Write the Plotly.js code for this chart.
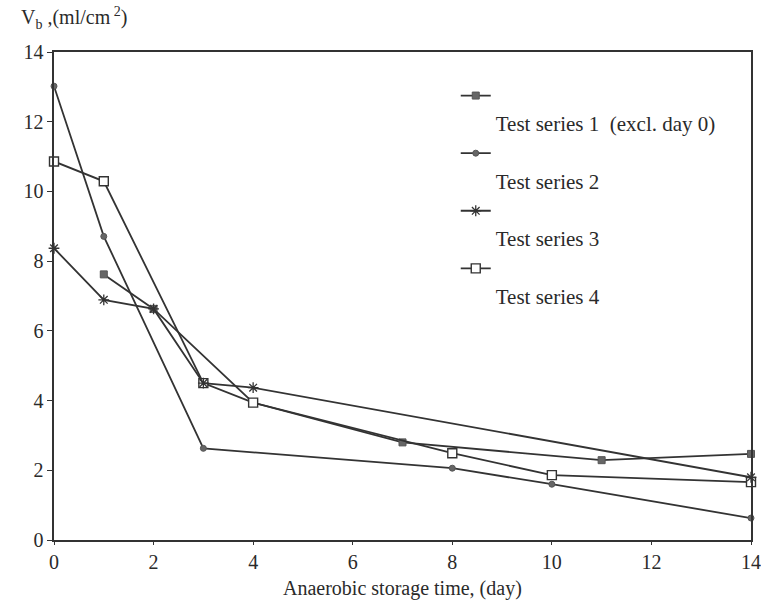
<!DOCTYPE html>
<html>
<head>
<meta charset="utf-8">
<script src="https://cdn.plot.ly/plotly-3.0.1.min.js"></script>
<style>html,body{margin:0;padding:0;background:#fff;}#chart{width:761px;height:602px;}</style>
</head>
<body>
<div id="chart"></div>
<script>
// Data
const s1Days = [1, 2, 4, 7, 11, 14];
const s1Vals = [7.62, 6.63, 3.94, 2.80, 2.29, 2.47];
const s2Days = [0, 1, 3, 8, 10, 14];
const s2Vals = [13.02, 8.71, 2.63, 2.06, 1.60, 0.63];
const s3Days = [0, 1, 2, 3, 4, 14];
const s3Vals = [8.37, 6.89, 6.63, 4.50, 4.37, 1.80];
const s4Days = [0, 1, 3, 4, 8, 10, 14];
const s4Vals = [10.86, 10.29, 4.50, 3.94, 2.49, 1.86, 1.66];
const seriesNames = ["Test series 1  (excl. day 0)", "Test series 2", "Test series 3", "Test series 4"];
const xTicks = [0, 2, 4, 6, 8, 10, 12, 14];
const yTicks = [0, 2, 4, 6, 8, 10, 12, 14];
const xTitle = "Anaerobic storage time, (day)";
const yTitle = "V<sub>b</sub> ,(ml/cm<sup> 2</sup>)";

const lineCol = "#333333";
const font = "'Liberation Serif', 'Times New Roman', serif";
const txtCol = "#2a2a2a";

const traces = [
  {x: s1Days, y: s1Vals, name: "\u00a0<br>" + seriesNames[0], legendgroup: "a", legendrank: 1,
   mode: "lines+markers", cliponaxis: false,
   line: {color: lineCol, width: 1.8},
   marker: {symbol: "square", size: 7, color: "#666666", line: {color: "#555", width: 1}}},
  {x: s2Days, y: s2Vals, name: "\u00a0<br>" + seriesNames[1], legendgroup: "b", legendrank: 2,
   mode: "lines+markers", cliponaxis: false,
   line: {color: lineCol, width: 1.8},
   marker: {symbol: "circle", size: 6, color: "#666666", line: {color: "#555", width: 1}}},
  {x: s4Days, y: s4Vals, name: "\u00a0<br>" + seriesNames[3], legendgroup: "d", legendrank: 4,
   mode: "lines+markers", cliponaxis: false,
   line: {color: lineCol, width: 1.8},
   marker: {symbol: "square", size: 9, color: "#ffffff", line: {color: lineCol, width: 1.4}}},
  {x: s3Days, y: s3Vals, name: "\u00a0<br>" + seriesNames[2], legendgroup: "c", legendrank: 3,
   mode: "lines+markers", cliponaxis: false,
   line: {color: lineCol, width: 1.8},
   marker: {symbol: "asterisk-open", size: 9, color: lineCol, line: {color: lineCol, width: 1.3}}}
];

const layout = {
  width: 761, height: 602,
  margin: {l: 54, r: 10, t: 52, b: 62},
  paper_bgcolor: "#fff", plot_bgcolor: "#fff",
  font: {family: font, size: 20, color: txtCol},
  showlegend: true,
  legend: {x: 0.5764, xanchor: "left", y: 0.952, yanchor: "top",
           valign: "top", tracegroupgap: 0, itemwidth: 30,
           bgcolor: "rgba(0,0,0,0)", font: {family: font, size: 21, color: txtCol}},
  xaxis: {range: [0, 14], tickvals: xTicks, ticktext: xTicks.map(String),
          showgrid: false, zeroline: false, showline: true, mirror: true,
          linecolor: lineCol, linewidth: 1.6, ticks: "outside", ticklen: 3,
          tickcolor: lineCol, tickfont: {family: font, size: 20, color: txtCol}},
  yaxis: {range: [0, 14], tickvals: yTicks, ticktext: yTicks.map(String),
          showgrid: false, zeroline: false, showline: true, mirror: true,
          linecolor: lineCol, linewidth: 1.6, ticks: "outside", ticklen: 5,
          tickcolor: lineCol, tickfont: {family: font, size: 20, color: txtCol}},
  annotations: [
    {xref: "paper", yref: "paper", x: -0.05, y: 1.0, xanchor: "left", yanchor: "bottom",
     yshift: 18, showarrow: false, align: "left", text: yTitle,
     font: {family: font, size: 20, color: txtCol}},
    {xref: "paper", yref: "paper", x: 0.5, y: 0, xanchor: "center", yanchor: "top",
     yshift: -35, showarrow: false, text: xTitle,
     font: {family: font, size: 20, color: txtCol}}
  ]
};

Plotly.newPlot("chart", traces, layout, {displayModeBar: false, staticPlot: true});
</script>
</body>
</html>
